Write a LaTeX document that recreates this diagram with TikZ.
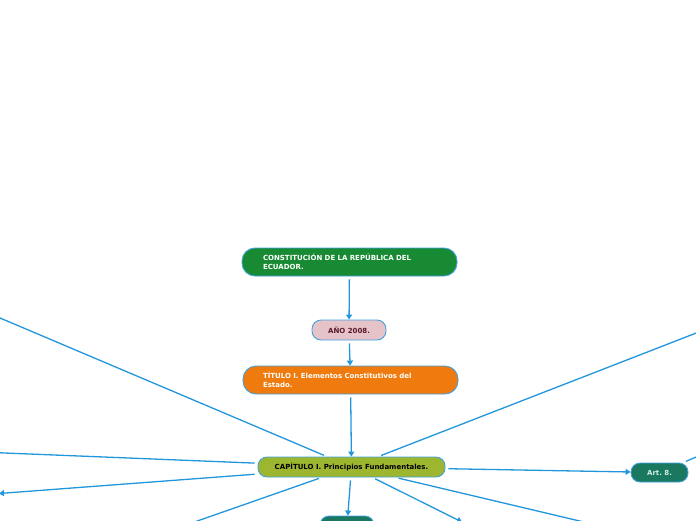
\documentclass[tikz,border=0pt]{standalone}
\usepackage{fontspec}
\setmainfont{DejaVu Sans}
\usetikzlibrary{arrows.meta}
\frenchspacing
\definecolor{verde}{HTML}{188A33}
\definecolor{rosa}{HTML}{E5C3C8}
\definecolor{vino}{HTML}{5B1A2E}
\definecolor{naranja}{HTML}{EF7A0E}
\definecolor{oliva}{HTML}{9CB630}
\definecolor{petroleo}{HTML}{1A7860}
\definecolor{menta}{HTML}{CDEFE2}
\definecolor{azul}{HTML}{2196DC}
\definecolor{borde}{HTML}{42A1E0}
\begin{document}
\begin{tikzpicture}[x=1pt, y=-1pt,
        caja/.style={draw=borde, line width=0.9pt, rounded corners=9pt,
                     font=\bfseries\fontsize{7}{8.5}\selectfont, inner sep=2pt},
        rama/.style={draw=azul, line width=1.3pt, shorten <=3pt},
        flecha/.style={rama, -{Triangle[length=5pt,width=6pt]}},
    ]
        \useasboundingbox (0,0) rectangle (696,520);
        \clip (0,0) rectangle (696,520);
        % temas
        \node[caja, fill=verde, text=white, minimum width=215pt, minimum height=28pt,
              text width=173pt, align=left, rounded corners=13pt] (constitucion) at (349.5,262)
              {CONSTITUCIÓN DE LA REPÚBLICA DEL\\ECUADOR.};
        \node[caja, fill=rosa, text=vino, minimum width=74pt, minimum height=20pt] (anio) at (349,330)
              {AÑO 2008.};
        \node[caja, fill=naranja, text=white, minimum width=215pt, minimum height=28pt,
              text width=175pt, align=left, rounded corners=13pt] (titulo) at (350.5,380)
              {TÍTULO I. Elementos Constitutivos del\\Estado.};
        \node[caja, fill=oliva, text=black, minimum width=187pt, minimum height=20pt] (capitulo) at (351.5,467)
              {CAPÍTULO I. Principios Fundamentales.};
        \node[caja, fill=petroleo, text=menta, minimum width=57pt, minimum height=19pt] (art8) at (659.5,472.5)
              {Art. 8.};
        \node[caja, fill=petroleo, minimum width=54pt, minimum height=20pt] (abajo) at (347,526) {};
        % fuera del cuadro
        \coordinate (izqarriba) at (-20,309.5);
        \coordinate (izq)       at (-20,452);
        \coordinate (izqabajo)  at (-1,493.5);
        \coordinate (suroeste)  at (143,540);
        \coordinate (sur)       at (462,522);
        \coordinate (sureste)   at (660,540);
        \coordinate (derarriba) at (740,316);
        \coordinate (derart)    at (740,438.5);
        % ramas
        \draw[flecha] (constitucion) -- (anio);
        \draw[flecha] (anio) -- (titulo);
        \draw[flecha] (titulo) -- (capitulo);
        \draw[rama] (capitulo) -- (izqarriba);
        \draw[rama] (capitulo) -- (izq);
        \draw[flecha] (capitulo) -- (izqabajo);
        \draw[rama] (capitulo) -- (suroeste);
        \draw[flecha] (capitulo) -- (abajo);
        \draw[flecha] (capitulo) -- (sur);
        \draw[rama] (capitulo) -- (sureste);
        \draw[rama] (capitulo) -- (derarriba);
        \draw[flecha] (capitulo) -- (art8);
        \draw[rama] (art8) -- (derart);
    \end{tikzpicture}
\end{document}
